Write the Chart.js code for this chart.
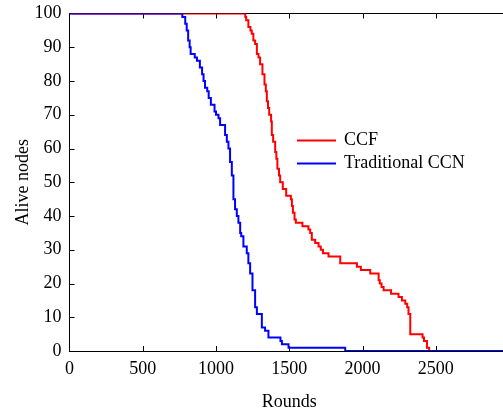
<!DOCTYPE html>
<html>
<head>
<meta charset="utf-8">
<script src="https://cdn.jsdelivr.net/npm/chart.js@4"></script>
<style>
  html, body { margin: 0; padding: 0; background: #fff; overflow: hidden; }
  #box { width: 503px; height: 413px; overflow: hidden; }
</style>
</head>
<body>
<div id="box"><canvas id="alive" width="516" height="413"></canvas></div>
<script>
const ccfRounds = [0, 1200, 1206, 1221, 1235, 1244, 1255, 1267, 1279, 1290, 1301, 1317, 1331, 1340, 1347, 1355, 1363, 1376, 1381, 1390, 1404, 1412, 1419, 1430, 1438, 1456, 1479, 1511, 1518, 1525, 1536, 1545, 1590, 1631, 1643, 1654, 1677, 1700, 1715, 1730, 1768, 1848, 1962, 1989, 2053, 2110, 2118, 2130, 2144, 2195, 2246, 2269, 2292, 2305, 2314, 2326, 2410, 2420, 2440, 2455, 3000];
const ccfAlive = [100, 99, 98, 96, 95, 94, 92, 91, 88, 87, 85, 82, 79, 77, 74, 72, 70, 68, 64, 62, 59, 57, 54, 52, 50, 48, 46, 45, 43, 41, 39, 38, 37, 36, 35, 33, 32, 31, 30, 29, 28, 26, 25, 24, 23, 21, 20, 19, 18, 17, 16, 15, 14, 13, 11, 5, 4, 3, 1, 0, 0];

const tradRounds = [0, 770, 790, 800, 810, 820, 827, 855, 870, 890, 905, 915, 925, 940, 950, 965, 990, 1000, 1017, 1028, 1062, 1074, 1085, 1096, 1108, 1119, 1130, 1142, 1153, 1165, 1172, 1187, 1210, 1221, 1233, 1249, 1267, 1279, 1313, 1335, 1358, 1440, 1450, 1495, 1882, 3000];
const tradAlive = [100, 99, 97, 95, 92, 90, 88, 87, 86, 84, 82, 80, 78, 77, 75, 73, 71, 70, 69, 67, 64, 62, 60, 56, 52, 45, 42, 40, 38, 35, 34, 31, 29, 26, 23, 18, 13, 11, 7, 6, 4, 3, 2, 1, 0, 0];

const xTicks = [0, 500, 1000, 1500, 2000, 2500];

const serif = '"Liberation Serif", "Times New Roman", serif';
Chart.defaults.color = '#000';
Chart.defaults.font.family = serif;
Chart.defaults.font.size = 18;

function pts(xs, ys) {
    return xs.map((x, i) => ({ x: x, y: ys[i] }));
}

// inward tick marks and the top frame line
const frame = {
    id: 'frame',
    beforeDatasetsDraw(chart) {
        const { ctx, chartArea: a, scales: { x, y } } = chart;
        ctx.save();
        ctx.strokeStyle = '#000';
        ctx.lineWidth = 1;
        ctx.beginPath();
        ctx.moveTo(a.left, a.top);
        ctx.lineTo(a.right, a.top);
        x.ticks.forEach(t => {
            const px = Math.round(x.getPixelForValue(t.value)) + 0.5;
            if (t.value <= 0) return;
            ctx.moveTo(px, a.bottom);
            ctx.lineTo(px, a.bottom - 5);
            ctx.moveTo(px, a.top);
            ctx.lineTo(px, a.top + 5);
        });
        y.ticks.forEach(t => {
            const py = Math.round(y.getPixelForValue(t.value)) + 0.5;
            if (t.value <= 0 || t.value >= 100) return;
            ctx.moveTo(a.left, py);
            ctx.lineTo(a.left + 5, py);
        });
        ctx.stroke();
        ctx.restore();
    }
};

const legendBox = {
    id: 'legendBox',
    afterDraw(chart) {
        const ctx = chart.ctx;
        const items = [
            { text: 'CCF', color: '#ff0000', y: 140.5 },
            { text: 'Traditional CCN', color: '#0000ff', y: 163.5 }
        ];
        ctx.save();
        ctx.font = '18px ' + serif;
        ctx.textBaseline = 'middle';
        items.forEach(it => {
            ctx.strokeStyle = it.color;
            ctx.lineWidth = 2;
            ctx.beginPath();
            ctx.moveTo(297, it.y);
            ctx.lineTo(336, it.y);
            ctx.stroke();
            ctx.fillStyle = '#000';
            ctx.fillText(it.text, 344, it.y);
        });
        ctx.restore();
    }
};

const config = {
    type: 'line',
    data: {
        datasets: [
            {
                label: 'CCF',
                data: pts(ccfRounds, ccfAlive),
                borderColor: '#ff0000',
                borderWidth: 2,
                stepped: true,
                pointRadius: 0,
                fill: false,
                order: 2
            },
            {
                label: 'Traditional CCN',
                data: pts(tradRounds, tradAlive),
                borderColor: '#0000ff',
                borderWidth: 2,
                stepped: true,
                pointRadius: 0,
                fill: false,
                order: 1
            }
        ]
    },
    options: {
        responsive: false,
        animation: false,
        events: [],
        layout: { padding: { top: 13.5, right: 3.3, bottom: 0, left: 0 } },
        plugins: { legend: { display: false }, tooltip: { enabled: false } },
        scales: {
            x: {
                type: 'linear',
                min: 0,
                max: 3000,
                afterFit: s => { s.height = 62; },
                afterBuildTicks: s => { s.ticks = xTicks.concat([3000]).map(v => ({ value: v })); },
                ticks: {
                    padding: 7,
                    maxRotation: 0,
                    callback: v => (v === 3000 ? '' : String(v))
                },
                grid: { display: true, drawOnChartArea: false, drawTicks: false },
                border: { display: true, color: '#000', width: 1 },
                title: { display: true, text: 'Rounds', padding: { top: 0, bottom: 0 } }
            },
            y: {
                min: 0,
                max: 100,
                afterFit: s => { s.width = 69.5; s.paddingTop = 0; s.paddingBottom = 0; },
                ticks: { stepSize: 10, padding: 8 },
                grid: { display: true, drawOnChartArea: false, drawTicks: false },
                border: { display: true, color: '#000', width: 1 },
                title: { display: true, text: 'Alive nodes', padding: { top: 12, bottom: 0 } }
            }
        }
    },
    plugins: [frame, legendBox]
};

const myChart = new Chart(document.getElementById('alive'), config);
</script>
</body>
</html>
